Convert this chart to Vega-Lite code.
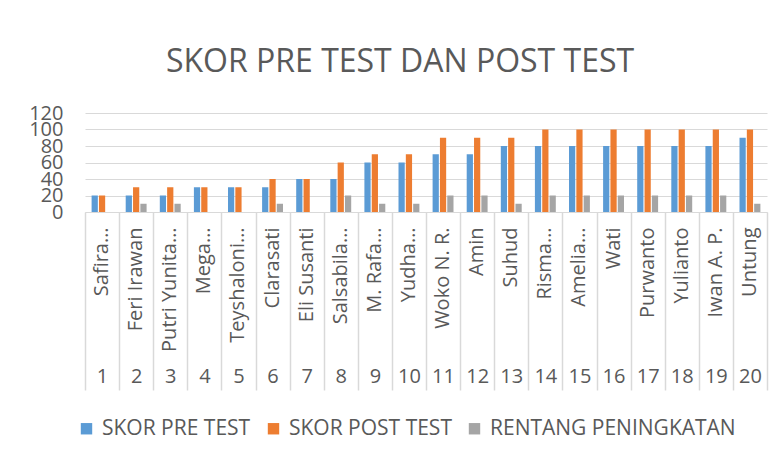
{
  "$schema": "https://vega.github.io/schema/vega-lite/v6.json",
  "autosize": {"type": "none"},
  "width": 682,
  "height": 99,
  "padding": {"left": 85, "top": 113, "right": 17, "bottom": 247},
  "background": "white",
  "title": {
    "text": "SKOR PRE TEST DAN POST TEST",
    "font": "Open Sans",
    "fontSize": 32,
    "fontWeight": "normal",
    "color": "#595959",
    "anchor": "middle",
    "frame": "group",
    "dx": -26,
    "dy": 6,
    "offset": 30
  },
  "config": {
    "view": {"stroke": null},
    "font": "Open Sans",
    "axis": {"labelFont": "Open Sans", "labelColor": "#595959", "labelFontSize": 20, "labelOverlap": false},
    "legend": {"labelFont": "Open Sans", "labelColor": "#595959", "labelFontSize": 21, "labelLimit": 400}
  },
  "data": {
    "values": [
      {"kategori": "1|Safira…", "seri": "SKOR PRE TEST", "skor": 20},
      {"kategori": "1|Safira…", "seri": "SKOR POST TEST", "skor": 20},
      {"kategori": "1|Safira…", "seri": "RENTANG PENINGKATAN", "skor": 0},
      {"kategori": "2|Feri Irawan", "seri": "SKOR PRE TEST", "skor": 20},
      {"kategori": "2|Feri Irawan", "seri": "SKOR POST TEST", "skor": 30},
      {"kategori": "2|Feri Irawan", "seri": "RENTANG PENINGKATAN", "skor": 10},
      {"kategori": "3|Putri Yunita…", "seri": "SKOR PRE TEST", "skor": 20},
      {"kategori": "3|Putri Yunita…", "seri": "SKOR POST TEST", "skor": 30},
      {"kategori": "3|Putri Yunita…", "seri": "RENTANG PENINGKATAN", "skor": 10},
      {"kategori": "4|Mega…", "seri": "SKOR PRE TEST", "skor": 30},
      {"kategori": "4|Mega…", "seri": "SKOR POST TEST", "skor": 30},
      {"kategori": "4|Mega…", "seri": "RENTANG PENINGKATAN", "skor": 0},
      {"kategori": "5|Teyshaloni…", "seri": "SKOR PRE TEST", "skor": 30},
      {"kategori": "5|Teyshaloni…", "seri": "SKOR POST TEST", "skor": 30},
      {"kategori": "5|Teyshaloni…", "seri": "RENTANG PENINGKATAN", "skor": 0},
      {"kategori": "6|Clarasati", "seri": "SKOR PRE TEST", "skor": 30},
      {"kategori": "6|Clarasati", "seri": "SKOR POST TEST", "skor": 40},
      {"kategori": "6|Clarasati", "seri": "RENTANG PENINGKATAN", "skor": 10},
      {"kategori": "7|Eli Susanti", "seri": "SKOR PRE TEST", "skor": 40},
      {"kategori": "7|Eli Susanti", "seri": "SKOR POST TEST", "skor": 40},
      {"kategori": "7|Eli Susanti", "seri": "RENTANG PENINGKATAN", "skor": 0},
      {"kategori": "8|Salsabila…", "seri": "SKOR PRE TEST", "skor": 40},
      {"kategori": "8|Salsabila…", "seri": "SKOR POST TEST", "skor": 60},
      {"kategori": "8|Salsabila…", "seri": "RENTANG PENINGKATAN", "skor": 20},
      {"kategori": "9|M. Rafa…", "seri": "SKOR PRE TEST", "skor": 60},
      {"kategori": "9|M. Rafa…", "seri": "SKOR POST TEST", "skor": 70},
      {"kategori": "9|M. Rafa…", "seri": "RENTANG PENINGKATAN", "skor": 10},
      {"kategori": "10|Yudha…", "seri": "SKOR PRE TEST", "skor": 60},
      {"kategori": "10|Yudha…", "seri": "SKOR POST TEST", "skor": 70},
      {"kategori": "10|Yudha…", "seri": "RENTANG PENINGKATAN", "skor": 10},
      {"kategori": "11|Woko N. R.", "seri": "SKOR PRE TEST", "skor": 70},
      {"kategori": "11|Woko N. R.", "seri": "SKOR POST TEST", "skor": 90},
      {"kategori": "11|Woko N. R.", "seri": "RENTANG PENINGKATAN", "skor": 20},
      {"kategori": "12|Amin", "seri": "SKOR PRE TEST", "skor": 70},
      {"kategori": "12|Amin", "seri": "SKOR POST TEST", "skor": 90},
      {"kategori": "12|Amin", "seri": "RENTANG PENINGKATAN", "skor": 20},
      {"kategori": "13|Suhud", "seri": "SKOR PRE TEST", "skor": 80},
      {"kategori": "13|Suhud", "seri": "SKOR POST TEST", "skor": 90},
      {"kategori": "13|Suhud", "seri": "RENTANG PENINGKATAN", "skor": 10},
      {"kategori": "14|Risma…", "seri": "SKOR PRE TEST", "skor": 80},
      {"kategori": "14|Risma…", "seri": "SKOR POST TEST", "skor": 100},
      {"kategori": "14|Risma…", "seri": "RENTANG PENINGKATAN", "skor": 20},
      {"kategori": "15|Amelia…", "seri": "SKOR PRE TEST", "skor": 80},
      {"kategori": "15|Amelia…", "seri": "SKOR POST TEST", "skor": 100},
      {"kategori": "15|Amelia…", "seri": "RENTANG PENINGKATAN", "skor": 20},
      {"kategori": "16|Wati", "seri": "SKOR PRE TEST", "skor": 80},
      {"kategori": "16|Wati", "seri": "SKOR POST TEST", "skor": 100},
      {"kategori": "16|Wati", "seri": "RENTANG PENINGKATAN", "skor": 20},
      {"kategori": "17|Purwanto", "seri": "SKOR PRE TEST", "skor": 80},
      {"kategori": "17|Purwanto", "seri": "SKOR POST TEST", "skor": 100},
      {"kategori": "17|Purwanto", "seri": "RENTANG PENINGKATAN", "skor": 20},
      {"kategori": "18|Yulianto", "seri": "SKOR PRE TEST", "skor": 80},
      {"kategori": "18|Yulianto", "seri": "SKOR POST TEST", "skor": 100},
      {"kategori": "18|Yulianto", "seri": "RENTANG PENINGKATAN", "skor": 20},
      {"kategori": "19|Iwan A. P.", "seri": "SKOR PRE TEST", "skor": 80},
      {"kategori": "19|Iwan A. P.", "seri": "SKOR POST TEST", "skor": 100},
      {"kategori": "19|Iwan A. P.", "seri": "RENTANG PENINGKATAN", "skor": 20},
      {"kategori": "20|Untung", "seri": "SKOR PRE TEST", "skor": 90},
      {"kategori": "20|Untung", "seri": "SKOR POST TEST", "skor": 100},
      {"kategori": "20|Untung", "seri": "RENTANG PENINGKATAN", "skor": 10}
    ]
  },
  "layer": [
    {
      "mark": {"type": "bar"},
      "encoding": {
        "x": {
          "field": "kategori",
          "type": "nominal",
          "sort": null,
          "scale": {"paddingInner": 0, "paddingOuter": 0},
          "axis": {
            "title": null,
            "orient": "bottom",
            "labelExpr": "split(datum.value, '|')[1]",
            "labelAngle": -90,
            "labelPadding": 15,
            "labelLimit": 300,
            "ticks": false,
            "domain": false,
            "grid": false
          }
        },
        "xOffset": {
          "field": "seri",
          "sort": null,
          "scale": {"paddingInner": 0.15, "paddingOuter": 0.9}
        },
        "y": {
          "field": "skor",
          "type": "quantitative",
          "scale": {"domain": [0, 120], "nice": false},
          "axis": {
            "title": null,
            "values": [0, 20, 40, 60, 80, 100, 120],
            "domain": false,
            "ticks": false,
            "labelPadding": 22,
            "gridColor": "#D9D9D9",
            "gridWidth": 1.2
          }
        },
        "color": {
          "field": "seri",
          "type": "nominal",
          "sort": null,
          "scale": {
            "domain": ["SKOR PRE TEST", "SKOR POST TEST", "RENTANG PENINGKATAN"],
            "range": ["#5B9BD5", "#ED7D31", "#A5A5A5"]
          },
          "legend": {
            "title": null,
            "orient": "none",
            "legendX": -9,
            "legendY": 305,
            "direction": "horizontal",
            "symbolType": "square",
            "symbolSize": 130,
            "symbolStrokeWidth": 0,
            "labelOffset": 5,
            "labelLimit": 400,
            "columnPadding": 12
          }
        }
      }
    },
    {
      "mark": {"type": "text"},
      "encoding": {
        "x": {
          "field": "kategori",
          "type": "nominal",
          "sort": null,
          "axis": {
            "title": null,
            "orient": "bottom",
            "labelExpr": "datum.value == null ? '' : split(datum.value, '|')[0]",
            "labelAngle": 0,
            "labelPadding": -24,
            "ticks": true,
            "tickBand": "extent",
            "tickSize": 178,
            "tickColor": "#D9D9D9",
            "tickOpacity": 1,
            "tickWidth": 1.5,
            "domain": true,
            "domainColor": "#D9D9D9",
            "domainWidth": 1.2,
            "grid": false
          }
        },
        "text": {"value": ""}
      }
    }
  ],
  "resolve": {"axis": {"x": "independent"}}
}
